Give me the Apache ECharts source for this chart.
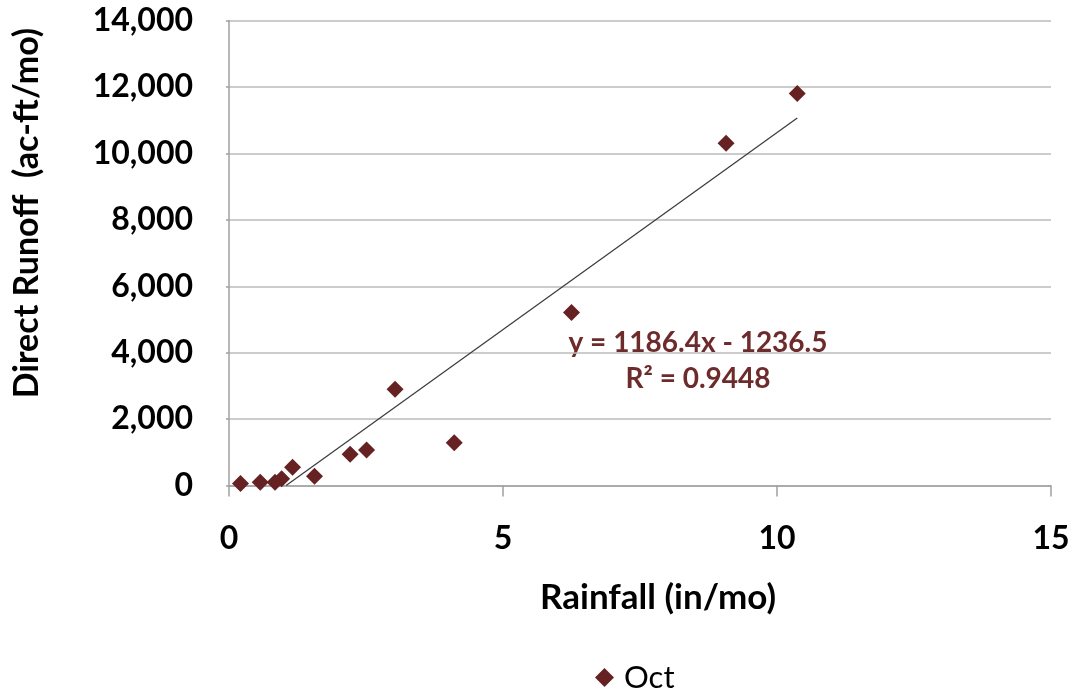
<!DOCTYPE html>
<html>
<head>
<meta charset="utf-8">
<script src="https://cdn.jsdelivr.net/npm/echarts@6/dist/echarts.min.js"></script>
<style>
  html, body { margin: 0; padding: 0; background: #fff; }
  #chart { width: 1075px; height: 691px; }
</style>
</head>
<body>
<div id="chart"></div>
<script>
// October monthly rainfall vs. direct runoff
const rainfall = [0.21, 0.57, 0.84, 0.96, 1.16, 1.56, 2.21, 2.51, 3.03, 4.11, 6.25, 9.07, 10.37];
const runoff   = [60, 100, 100, 200, 550, 280, 940, 1070, 2900, 1290, 5210, 10310, 11810];

// Linear trendline coefficients (as reported on the chart)
const slope = 1186.4;
const intercept = -1236.5;
const rSquared = 0.9448;

const xTicks = [0, 5, 10, 15];
const yTicks = [0, 2000, 4000, 6000, 8000, 10000, 12000, 14000];

const FONT = 'Lato';
const MAROON = '#662222';
const LABEL_RED = '#6E2B2B';

const points = rainfall.map((x, i) => [x, runoff[i]]);

// Trendline spans from where it meets y = 0 to the largest rainfall value
const xStart = -intercept / slope;
const xEnd = Math.max(...rainfall);
const trend = [[xStart, slope * xStart + intercept], [xEnd, slope * xEnd + intercept]];

const eqText = 'y = ' + slope.toFixed(1) + 'x - ' + Math.abs(intercept).toFixed(1);
const r2Text = 'R² = ' + rSquared.toFixed(4);

const chart = echarts.init(document.getElementById('chart'), null, { renderer: 'canvas' });

chart.setOption({
  animation: false,
  backgroundColor: '#ffffff',
  textStyle: { fontFamily: FONT },
  grid: { left: 229, right: 24, top: 20.7, bottom: 205.5, containLabel: false },
  xAxis: {
    type: 'value',
    min: xTicks[0],
    max: xTicks[xTicks.length - 1],
    interval: xTicks[1] - xTicks[0],
    name: 'Rainfall (in/mo)',
    nameLocation: 'middle',
    nameGap: 95,
    nameTextStyle: { fontFamily: FONT, fontWeight: 'bold', fontSize: 35, color: '#000', padding: [0, 0, 0, 36] },
    axisLine: { show: true, onZero: false, lineStyle: { color: '#A0A0A0', width: 1.5 } },
    axisTick: { show: true, length: 11, inside: false, lineStyle: { color: '#A0A0A0', width: 1.5 } },
    axisLabel: { fontFamily: FONT, fontWeight: 'bold', fontSize: 32, color: '#000', margin: 37 },
    splitLine: { show: false }
  },
  yAxis: {
    type: 'value',
    min: yTicks[0],
    max: yTicks[yTicks.length - 1],
    interval: yTicks[1] - yTicks[0],
    name: 'Direct Runoff  (ac-ft/mo)',
    nameLocation: 'middle',
    nameRotate: 90,
    nameGap: 185,
    nameTextStyle: { fontFamily: FONT, fontWeight: 'bold', fontSize: 34, color: '#000', padding: [0, 0, 0, 80] },
    axisLine: { show: true, lineStyle: { color: '#A0A0A0', width: 1.5 } },
    axisTick: { show: true, length: 3, lineStyle: { color: '#A0A0A0', width: 1.5 } },
    axisLabel: {
      fontFamily: FONT, fontWeight: 'bold', fontSize: 32, color: '#000', margin: 36,
      formatter: v => v.toLocaleString('en-US')
    },
    splitLine: { show: true, lineStyle: { color: '#BBBBBB', width: 1.5 } }
  },
  legend: {
    left: 590,
    top: 657,
    itemWidth: 19,
    itemHeight: 19,
    itemGap: 10,
    icon: 'diamond',
    itemStyle: { opacity: 1 },
    textStyle: { fontFamily: FONT, fontSize: 31, color: '#000', padding: [0, 0, 0, 5] },
    data: ['Oct']
  },
  series: [
    {
      name: 'Trend',
      type: 'line',
      data: trend,
      symbol: 'none',
      silent: true,
      z: 2,
      lineStyle: { color: '#3A3A3A', width: 1.2 }
    },
    {
      name: 'Oct',
      type: 'scatter',
      data: points,
      symbol: 'diamond',
      symbolSize: 17,
      z: 3,
      itemStyle: { color: MAROON, opacity: 1 }
    }
  ],
  graphic: [
    {
      type: 'group',
      left: 560,
      top: 325,
      children: [
        { type: 'rect', shape: { x: 0, y: 0, width: 276, height: 72 }, style: { fill: '#ffffff' } },
        {
          type: 'text',
          x: 138, y: 18,
          style: {
            text: eqText, fill: LABEL_RED, font: 'bold 28px ' + FONT,
            align: 'center', verticalAlign: 'middle'
          }
        },
        {
          type: 'text',
          x: 138, y: 54,
          style: {
            text: r2Text, fill: LABEL_RED, font: 'bold 28px ' + FONT,
            align: 'center', verticalAlign: 'middle'
          }
        }
      ]
    }
  ]
});
</script>
</body>
</html>
